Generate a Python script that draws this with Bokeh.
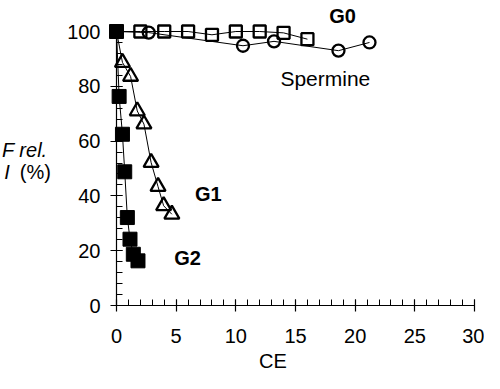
from bokeh.plotting import figure
from bokeh.models import SingleIntervalTicker, Range1d
from bokeh.core.properties import value
from bokeh.embed import file_html
from bokeh.resources import INLINE

# ---- data ----
g0_x = [0, 2, 4, 6, 8, 10, 12, 14, 16]
g0_y = [100, 100, 100, 100, 98.8, 100, 100, 99.5, 97.2]

sp_x = [0, 2.7, 10.6, 13.2, 18.6, 21.2]
sp_y = [100, 99.6, 94.8, 96.4, 93.0, 96.0]

g1_x = [0, 0.5, 1.18, 1.74, 2.3, 2.9, 3.48, 3.95, 4.64]
g1_y = [100, 88.7, 83.6, 71.0, 66.2, 52.2, 43.4, 36.4, 33.3]

g2_x = [0, 0.22, 0.5, 0.69, 0.91, 1.13, 1.41, 1.8]
g2_y = [100, 76.3, 62.5, 48.8, 32.1, 24.2, 18.7, 16.3]

x_ticks_interval = 5
y_ticks_interval = 20

FONT = "Liberation Sans"

p = figure(width=484, height=373, output_backend="svg", toolbar_location=None,
           x_range=Range1d(0, 30), y_range=Range1d(0, 100),
           min_border_left=116, min_border_right=10, min_border_top=31, min_border_bottom=68)
p.outline_line_color = None
p.grid.grid_line_color = None
p.background_fill_color = "white"

for ax, iv in ((p.xaxis[0], x_ticks_interval), (p.yaxis[0], y_ticks_interval)):
    ax.ticker = SingleIntervalTicker(interval=iv, num_minor_ticks=5)
    ax.major_tick_in = 6
    ax.major_tick_out = 6
    ax.minor_tick_in = 6
    ax.minor_tick_out = 0
    ax.axis_line_color = "black"
    ax.axis_line_width = 1.2
    ax.major_tick_line_color = "black"
    ax.minor_tick_line_color = "black"
    ax.major_tick_line_width = 1.2
    ax.minor_tick_line_width = 1
    ax.major_label_text_font = FONT
    ax.major_label_text_font_size = "20px"
    ax.major_label_text_color = "black"
p.xaxis[0].major_label_standoff = 17
p.yaxis[0].major_label_standoff = 10

# lines
lw = 1
p.line(g0_x, g0_y, line_color="black", line_width=lw, level="overlay")
p.line(sp_x, sp_y, line_color="black", line_width=lw, level="overlay")
p.line(g1_x, g1_y, line_color="black", line_width=lw, level="overlay")
p.line(g2_x, g2_y, line_color="black", line_width=lw, level="overlay")

# markers
p.scatter(sp_x[1:], sp_y[1:], marker="circle", size=12, fill_alpha=0,
          line_color="black", line_width=2.3, level="overlay")
p.scatter(g0_x[1:], g0_y[1:], marker="square", size=12, fill_alpha=0,
          line_color="black", line_width=2.3, level="overlay")
p.scatter(g1_x[1:], g1_y[1:], marker="triangle", size=15, fill_alpha=0,
          line_color="black", line_width=2.3, level="overlay")
p.scatter(g2_x, g2_y, marker="square", size=14, fill_color="black",
          line_color="black", line_width=1, level="overlay")

# texts (drawn as overlay text glyphs so that they are not clipped to the frame)
def lab(x, y, t, bold=False, italic=False, align="center", size="20px"):
    style = "normal"
    if bold:
        style = "bold"
    if italic:
        style = "italic"
    p.text(x=[x], y=[y], text=[t], text_font=value(FONT), text_font_size=size,
           text_font_style=style, text_align=align, text_baseline="middle",
           text_color="black", level="overlay")

lab(18.95, 105.6, "G0", bold=True)
lab(17.5, 82.8, "Spermine", size="21px")
lab(7.7, 40.6, "G1", bold=True)
lab(5.95, 17.5, "G2", bold=True)

# axis titles
lab(13.1, -20.3, "CE")
lab(-9.6, 56.6, "F rel.", italic=True, align="left")
lab(-9.4, 48.6, "I", italic=True, align="left")
lab(-8.1, 48.6, "(%)", align="left")

open("out.html", "w").write(file_html(p, INLINE))
